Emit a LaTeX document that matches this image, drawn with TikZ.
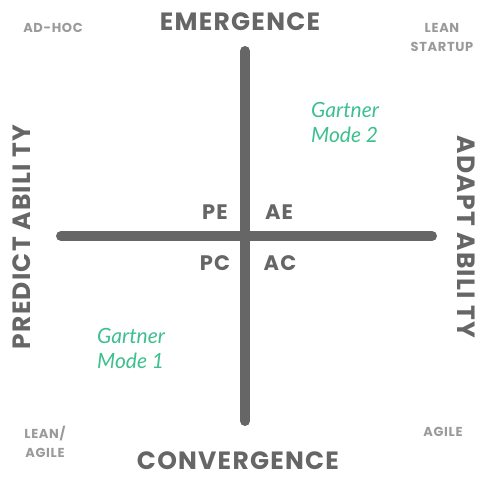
\documentclass[tikz,border=0pt]{standalone}
\usepackage{fontspec}
\setmainfont{Lato}
\newfontfamily\capsfont{Poppins}[LetterSpace=5]
\usetikzlibrary{positioning}
\definecolor{axisgray}{HTML}{666666}
\definecolor{cornergray}{HTML}{9A9A9A}
\definecolor{gartnergreen}{HTML}{3DBF8F}
\tikzstyle{axisline} = [draw, line width=10pt, line cap=round, color=axisgray]
\tikzstyle{pole} = [font=\capsfont\bfseries\fontsize{25}{25}\selectfont, text=axisgray, inner sep=0pt]
\tikzstyle{quadrant} = [font=\capsfont\bfseries\fontsize{21}{21}\selectfont, text=axisgray, inner sep=0pt]
\tikzstyle{corner} = [font=\capsfont\bfseries\fontsize{13}{19}\selectfont, text=cornergray, inner sep=0pt, align=center]
\tikzstyle{gartner} = [font=\itshape\fontsize{21}{25}\selectfont, text=gartnergreen, inner sep=0pt, align=left, anchor=west]

\begin{document}
\begin{tikzpicture}[x=1pt, y=-1pt]
    \useasboundingbox (0,0) rectangle (484,476);

    % First we draw the axes
    \coordinate (top) at (245,51);
    \coordinate (bottom) at (245,421);
    \coordinate (left) at (61,236);
    \coordinate (right) at (432,236);
    \path[axisline] (top) -- (bottom);
    \path[axisline] (left) -- (right);

    % Poles of the two axes
    \node[pole] (emergence) at (240,22) {EMERGENCE};
    \node[pole, anchor=base] (convergence) at (238,469) {CONVERGENCE};
    \node[pole, rotate=90] (predictability) at (22,237) {PREDICT ABILI TY};
    \node[pole, rotate=-90] (adaptability) at (466,237) {ADAPT ABILI TY};

    % Quadrant labels
    \foreach \pos/\name/\label in {{(215,212)/pe/PE}, {(279,212)/ae/AE}, {(215,263)/pc/PC}, {(280,263)/ac/AC}}
        \node[quadrant] (\name) at \pos {\label};

    % Corner labels
    \foreach \pos/\name/\label in {{(53,28)/adhoc/AD-HOC}, {(442,37)/leanstartup/{LEAN\\STARTUP}}, {(45,442)/leanagile/{LEAN/\\AGILE}}, {(443,432)/agile/AGILE}}
        \node[corner] (\name) at \pos {\label};

    % Gartner modes
    \node[gartner] (modetwo) at (311,122) {Gartner\\Mode 2};
    \node[gartner] (modeone) at (97,348) {Gartner\\Mode 1};

\end{tikzpicture}
\end{document}
